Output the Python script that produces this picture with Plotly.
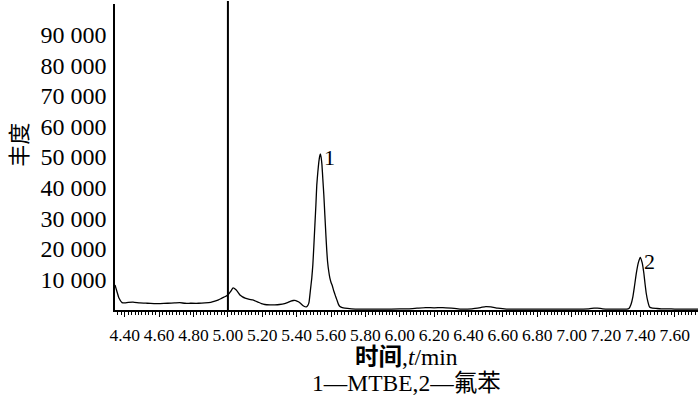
import plotly.graph_objects as go

# Retention time (min) and abundance
time_min = [4.343, 4.355, 4.366, 4.384, 4.40, 4.42, 4.448, 4.488, 4.53, 4.57, 4.605, 4.65,
            4.69, 4.72, 4.75, 4.78, 4.83, 4.866, 4.90, 4.924, 4.945, 4.965, 4.985, 5.00,
            5.015, 5.03, 5.047, 5.06, 5.07, 5.085, 5.10, 5.125, 5.145, 5.175, 5.195, 5.215,
            5.245, 5.273, 5.30, 5.33, 5.35, 5.366, 5.38, 5.395, 5.41, 5.42, 5.44, 5.456,
            5.465, 5.472, 5.48, 5.488, 5.494, 5.50, 5.506, 5.512, 5.517, 5.523, 5.529,
            5.534, 5.538, 5.542, 5.547, 5.552, 5.558, 5.564, 5.57, 5.575, 5.58, 5.587,
            5.593, 5.60, 5.607, 5.616, 5.625, 5.634, 5.642, 5.65, 5.665, 5.68, 5.72, 5.767,
            5.85, 5.95, 6.05, 6.10, 6.15, 6.20, 6.25, 6.30, 6.35, 6.42, 6.47, 6.50, 6.53,
            6.57, 6.62, 6.70, 6.80, 6.90, 7.00, 7.10, 7.13, 7.15, 7.18, 7.22, 7.28, 7.32,
            7.333, 7.345, 7.356, 7.366, 7.376, 7.388, 7.399, 7.41, 7.42, 7.427, 7.434,
            7.443, 7.453, 7.47, 7.492, 7.52, 7.56, 7.60, 7.65, 7.70, 7.735]
abundance = [8200, 5900, 3900, 2400, 2300, 2500, 2600, 2300, 2200, 2100, 2100, 2200,
             2300, 2400, 2200, 2200, 2200, 2300, 2500, 2900, 3300, 3900, 4400, 4900,
             6000, 7200, 6600, 5700, 4900, 4300, 3900, 3500, 3300, 2600, 2100, 1800,
             1700, 1700, 1800, 2100, 2500, 2900, 3100, 3100, 2700, 2300, 1300, 1000,
             1500, 2600, 6500, 10500, 14700, 21000, 27800, 34500, 40800, 45000, 48400,
             50300, 51000, 50000, 47500, 43000, 37600, 31000, 24500, 19500, 15700, 12500,
             10500, 9000, 8000, 6200, 4700, 3300, 2000, 1200, 800, 600, 400, 300,
             300, 300, 400, 600, 800, 700, 800, 600, 300, 400, 800, 1100, 1000,
             600, 300, 300, 300, 300, 300, 400, 600, 600, 400, 300, 300, 300,
             500, 1800, 4300, 8000, 12000, 15500, 17200, 15500, 12000, 8500, 5400,
             2800, 1000, 600, 500, 400, 400, 300, 300, 300, 300]

x_tick_vals = [4.40, 4.60, 4.80, 5.00, 5.20, 5.40, 5.60, 5.80, 6.00, 6.20, 6.40,
               6.60, 6.80, 7.00, 7.20, 7.40, 7.60]
y_tick_vals = [10000, 20000, 30000, 40000, 50000, 60000, 70000, 80000, 90000]
y_tick_text = ["10 000", "20 000", "30 000", "40 000", "50 000", "60 000",
               "70 000", "80 000", "90 000"]

peak_labels = ["1", "2"]
peak_times = [5.538, 7.399]
peak_heights = [51000, 17200]
marker_time = 5.00

x_range = [4.343, 7.735]
y_range = [0, 100000]

SERIF = "Liberation Serif, Times New Roman, Noto Sans CJK SC"

fig = go.Figure()
fig.add_trace(go.Scatter(
    x=time_min, y=abundance, mode="lines",
    line=dict(color="black", width=1.3, shape="spline", smoothing=0.4),
    showlegend=False, hoverinfo="skip",
))

fig.add_shape(type="line", xref="x", yref="paper", x0=marker_time, x1=marker_time,
              y0=0, y1=1.01, line=dict(color="black", width=2))

for lab, t, h in zip(peak_labels, peak_times, peak_heights):
    fig.add_annotation(x=t, y=h, text=lab, showarrow=False, xanchor="left",
                       yanchor="middle", xshift=2, yshift=-4,
                       font=dict(family=SERIF, size=22, color="black"))

fig.add_annotation(xref="paper", yref="paper", x=0.5, y=0, yshift=-47,
                   text="<b>时间</b>,<i>t</i>/min", showarrow=False,
                   xanchor="center", yanchor="middle",
                   font=dict(family=SERIF, size=23.5, color="black"))
fig.add_annotation(xref="paper", yref="paper", x=0.5, y=0, yshift=-73,
                   text="1—MTBE,2—氟苯", showarrow=False,
                   xanchor="center", yanchor="middle",
                   font=dict(family=SERIF, size=23.5, color="black"))
fig.add_annotation(xref="paper", yref="paper", x=-0.168, y=0.54,
                   text="丰度", textangle=-90, showarrow=False,
                   xanchor="center", yanchor="middle",
                   font=dict(family="Noto Sans CJK SC", size=22, color="black"))

fig.update_layout(
    width=700, height=399,
    margin=dict(l=115, r=2, t=4, b=89),
    paper_bgcolor="white", plot_bgcolor="white",
    xaxis=dict(range=x_range, tickvals=x_tick_vals, tickformat=".2f",
               showgrid=False, zeroline=False, showline=True, linecolor="black",
               linewidth=1.5, ticks="outside", ticklen=5, tickwidth=1,
               tickcolor="black",
               minor=dict(dtick=0.02, tick0=4.40, ticks="outside", ticklen=3,
                          tickcolor="black", tickwidth=1, showgrid=False),
               tickfont=dict(family=SERIF, size=17.5, color="black"),
               ticklabelstandoff=3),
    yaxis=dict(range=y_range, tickvals=y_tick_vals, ticktext=y_tick_text,
               showgrid=False, zeroline=False, showline=True, linecolor="black",
               linewidth=1.5, ticks="",
               tickfont=dict(family=SERIF, size=24, color="black"),
               ticklabelstandoff=2),
)

fig.write_html("out.html", config={"displayModeBar": False},
               post_script="document.body.style.margin='0';document.body.style.padding='0';")
